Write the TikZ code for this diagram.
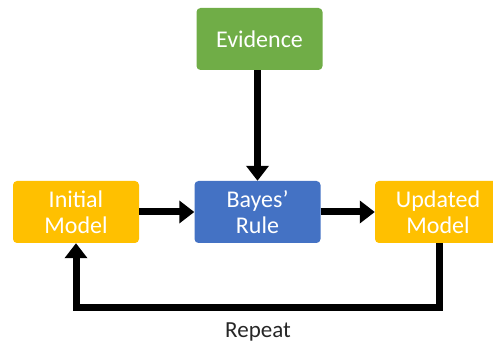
\documentclass[tikz,border=0pt]{standalone}
\usepackage{fontspec}
\setmainfont{Carlito}
\usetikzlibrary{arrows.meta}
\definecolor{evgreen}{HTML}{70AD47}
\definecolor{bayesblue}{HTML}{4472C4}
\definecolor{modelorange}{HTML}{FFC000}
\definecolor{repeatgray}{HTML}{262626}
\begin{document}
\begin{tikzpicture}[x=1pt,y=-1pt,
  boxnode/.style={rounded corners=4pt, minimum width=126pt, minimum height=62pt, inner sep=0pt,
    text=white, font=\fontsize{24}{26}\selectfont, align=center},
  flowarrow/.style={line width=7pt, -{Triangle[length=15pt,width=22pt]}}]
\useasboundingbox (0,0) rectangle (493,347);
\node[boxnode, fill=evgreen] (ev) at (259.5,39) {Evidence};
\node[boxnode, fill=bayesblue] (br) at (257.5,212) {Bayes’\\Rule};
\node[boxnode, fill=modelorange] (im) at (76,212) {Initial\\Model};
\node[boxnode, fill=modelorange] (um) at (438,212) {Updated\\Model};
\node[font=\fontsize{23}{25}\selectfont, text=repeatgray] (rp) at (258,332) {Repeat};
\coordinate (c1) at (439,308);
\coordinate (c2) at (76,308);
\draw[flowarrow] (ev.south -| br.north) -- (br.north);
\draw[flowarrow] (im.east) -- (br.west);
\draw[flowarrow] (br.east) -- (um.west);
\draw[flowarrow] (um.south -| c1) -- (c1) -- (c2) -- (im.south);
\end{tikzpicture}
\end{document}
